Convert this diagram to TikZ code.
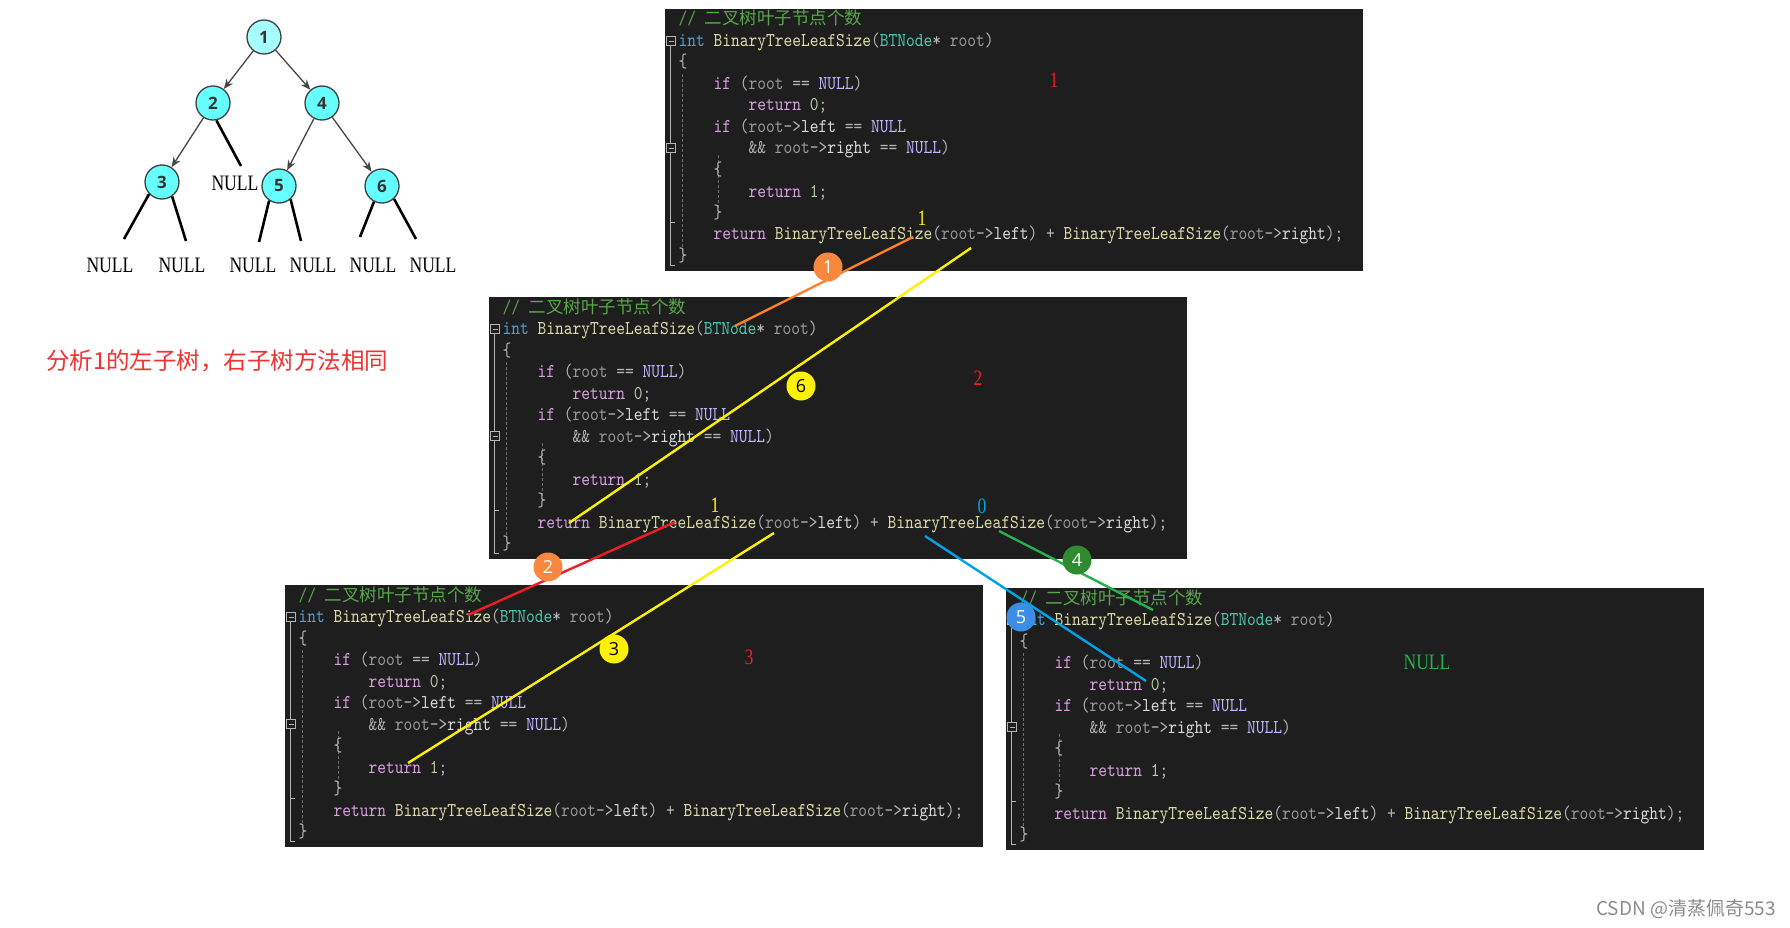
\documentclass[tikz,border=0pt]{standalone}
\usepackage{fontspec}
\usepackage{xcolor}
\definecolor{colBg}{HTML}{1E1E1E}
\definecolor{colCmt}{HTML}{57A64A}
\definecolor{colInt}{HTML}{569CD6}
\definecolor{colFn}{HTML}{DCDCAA}
\definecolor{colTy}{HTML}{4EC9B0}
\definecolor{colPar}{HTML}{9A9A9A}
\definecolor{colKw}{HTML}{D8A0DF}
\definecolor{colNul}{HTML}{BEB7FF}
\definecolor{colNum}{HTML}{B5CEA8}
\definecolor{colPun}{HTML}{B4B4B4}
\definecolor{colFld}{HTML}{DADADA}
\definecolor{colGuide}{HTML}{6E6E6E}
\definecolor{colNode}{HTML}{66FFFF}
\definecolor{colRoot}{HTML}{A6FFFF}
\definecolor{colOrange}{HTML}{F7883E}
\definecolor{colOrangeLine}{HTML}{FF7F27}
\definecolor{colRed}{HTML}{EE1C24}
\definecolor{colYellow}{HTML}{FFF200}
\definecolor{colGreen}{HTML}{2E8B30}
\definecolor{colGreenLine}{HTML}{22B14C}
\definecolor{colBlue}{HTML}{3A8EE6}
\definecolor{colBlueLine}{HTML}{00A2E8}
\definecolor{colNote}{HTML}{F03232}
\newfontfamily\codefont[FakeStretch=0.85]{lmmono10-regular.otf}
\newfontfamily\cjkfont{Noto Sans CJK SC}
\newfontfamily\nullwordfont[FakeStretch=0.8]{Liberation Serif}
\newfontfamily\numfont{Open Sans}
\usetikzlibrary{arrows.meta}

% code tokens
\newcommand\cKw[1]{\textcolor{colKw}{#1}}
\newcommand\cInt[1]{\textcolor{colInt}{#1}}
\newcommand\cFn[1]{\textcolor{colFn}{#1}}
\newcommand\cTy[1]{\textcolor{colTy}{#1}}
\newcommand\cPar[1]{\textcolor{colPar}{#1}}
\newcommand\cNul[1]{\textcolor{colNul}{#1}}
\newcommand\cNum[1]{\textcolor{colNum}{#1}}
\newcommand\cPun[1]{\textcolor{colPun}{#1}}
\newcommand\cFld[1]{\textcolor{colFld}{#1}}

% one editor window: name, left, top
\newcommand\codebox[3]{%
  \begin{scope}[shift={(#2,#3)}]
    \fill[colBg] (0,0) rectangle (698,262);
    % outlining margin
    \draw[colPun, line width=0.8pt] (5,37) -- (5,134) (5,144) -- (5,256) -- (10,256) (5,213) -- (10,213);
    \foreach \fy in {32,139} {
      \draw[colPun, fill=colBg, line width=0.8pt] (1.5,{\fy-4.5}) rectangle (10.5,{\fy+4.5});
      \draw[colPun, line width=0.8pt] (3.5,\fy) -- (8.5,\fy);
    }
    \draw[colGuide, dash pattern=on 3pt off 2pt, line width=0.8pt] (17,65) -- (17,245) (53,146) -- (53,205);
    \node[codeline] (#1l0) at (13.5,16) {\textcolor{colCmt}{// {\cjkfont\fontsize{17.5}{17.5}\selectfont 二叉树叶子节点个数}}};
    \node[codeline] (#1l1) at (13.5,37.5) {\cInt{int} \cFn{BinaryTreeLeafSize}\cPun{(}\cTy{BTNode}\cPun{*} \cPar{root}\cPun{)}};
    \node[codeline] (#1l2) at (13.5,59) {\cPun{\{}};
    \node[codeline] (#1l3) at (48.5,80.5) {\cKw{if} \cPun{(}\cPar{root} \cPun{==} \cNul{NULL}\cPun{)}};
    \node[codeline] (#1l4) at (83.5,102) {\cKw{return} \cNum{0}\cPun{;}};
    \node[codeline] (#1l5) at (48.5,123.5) {\cKw{if} \cPun{(}\cPar{root}\cPun{->}\cFld{left} \cPun{==} \cNul{NULL}};
    \node[codeline] (#1l6) at (83.5,145) {\cPun{\&\&} \cPar{root}\cPun{->}\cFld{right} \cPun{==} \cNul{NULL}\cPun{)}};
    \node[codeline] (#1l7) at (48.5,166.5) {\cPun{\{}};
    \node[codeline] (#1l8) at (83.5,188) {\cKw{return} \cNum{1}\cPun{;}};
    \node[codeline] (#1l9) at (48.5,209.5) {\cPun{\}}};
    \node[codeline] (#1l10) at (48.5,231) {\cKw{return} \cFn{BinaryTreeLeafSize}\cPun{(}\cPar{root}\cPun{->}\cFld{left}\cPun{)} \cPun{+} \cFn{BinaryTreeLeafSize}\cPun{(}\cPar{root}\cPun{->}\cFld{right}\cPun{);}};
    \node[codeline] (#1l11) at (13.5,252.5) {\cPun{\}}};
  \end{scope}}

\begin{document}
\begin{tikzpicture}[x=1pt, y=-1pt,
    codeline/.style={anchor=base west, inner sep=0pt, font=\codefont\fontsize{19.6}{21}\selectfont},
    treenode/.style={circle, draw=black!75, line width=1.3pt, fill=colNode, minimum size=34pt, inner sep=0pt,
      text=black!80, font=\numfont\bfseries\fontsize{17}{17}\selectfont},
    treearrow/.style={draw=black!72, line width=1.3pt, -{Stealth[length=10pt, width=8pt]}},
    nullline/.style={line width=2.6pt, black},
    nulltext/.style={inner sep=0pt, font=\nullwordfont\fontsize{22}{22}\selectfont},
    remark/.style={inner sep=0pt, font=\nullwordfont\fontsize{22}{22}\selectfont},
    stepmark/.style={circle, minimum size=29pt, inner sep=0pt, text=white, font=\numfont\fontsize{18}{18}\selectfont},
    callline/.style={line width=2.4pt}]
  \useasboundingbox (0,0) rectangle (1790,928);
  \fill[white] (0,0) rectangle (1790,928);

  % the tree
  \node[treenode, fill=colRoot] (n1) at (264,37) {1};
  \node[treenode] (n2) at (213,103) {2};
  \node[treenode] (n4) at (322,103) {4};
  \node[treenode] (n3) at (162,182) {3};
  \node[treenode] (n5) at (279,186) {5};
  \node[treenode] (n6) at (382,186) {6};
  \draw[treearrow] (n1) -- (n2);
  \draw[treearrow] (n1) -- (n4);
  \draw[treearrow] (n2) -- (n3);
  \draw[treearrow] (n4) -- (n5);
  \draw[treearrow] (n4) -- (n6);

  % empty children
  \node[nulltext] (null2b) at (235,183) {NULL};
  \node[nulltext] (null3a) at (110,265) {NULL};
  \node[nulltext] (null3b) at (182,265) {NULL};
  \node[nulltext] (null5a) at (253,265) {NULL};
  \node[nulltext] (null5b) at (313,265) {NULL};
  \node[nulltext] (null6a) at (373,265) {NULL};
  \node[nulltext] (null6b) at (433,265) {NULL};
  \coordinate (e2b) at (241,166);
  \coordinate (e3a) at (124,239);
  \coordinate (e3b) at (186,241);
  \coordinate (e5a) at (259,242);
  \coordinate (e5b) at (301,241);
  \coordinate (e6a) at (360,237);
  \coordinate (e6b) at (416,239);
  \draw[nullline] (n2.281) -- (e2b);
  \draw[nullline] (n3.223) -- (e3a);
  \draw[nullline] (n3.305) -- (e3b);
  \draw[nullline] (n5.236) -- (e5a);
  \draw[nullline] (n5.311) -- (e5b);
  \draw[nullline] (n6.243) -- (e6a);
  \draw[nullline] (n6.313) -- (e6b);

  \node[anchor=west, inner sep=0pt, text=colNote, font=\cjkfont\fontsize{23.5}{23.5}\selectfont] (note) at (46,361) {分析1的左子树，右子树方法相同};

  % the four calls
  \codebox{ca}{665}{9}
  \codebox{cb}{489}{297}
  \codebox{cc}{285}{585}
  \codebox{cd}{1006}{588}

  \node[remark, text=colRed] (res1) at (1054,80) {1};
  \node[remark, text=colYellow] (ret1) at (922,218) {1};
  \node[remark, text=colRed] (res2) at (978,378) {2};
  \node[remark, text=colYellow] (ret2l) at (715,505) {1};
  \node[remark, text=colBlueLine] (ret2r) at (982,506) {0};
  \node[remark, text=colRed] (res3) at (749,657) {3};
  \node[remark, text=colGreenLine] (resnull) at (1427,662) {NULL};

  % call and return paths
  \coordinate (o1a) at (913,237);
  \coordinate (o1b) at (735,326);
  \coordinate (y6a) at (971,248);
  \coordinate (y6b) at (569,523);
  \coordinate (r2a) at (675,522);
  \coordinate (r2b) at (468,615);
  \coordinate (y3a) at (774,533);
  \coordinate (y3b) at (408,763);
  \coordinate (b5a) at (925,536);
  \coordinate (b5b) at (1146,681);
  \coordinate (g4a) at (999,531);
  \coordinate (g4b) at (1153,610);
  \draw[callline, colOrangeLine] (o1a) -- (o1b);
  \draw[callline, colYellow] (y6a) -- (y6b);
  \draw[callline, colRed] (r2a) -- (r2b);
  \draw[callline, colYellow] (y3a) -- (y3b);
  \draw[callline, colBlueLine] (b5a) -- (b5b);
  \draw[callline, colGreenLine] (g4a) -- (g4b);
  \node[stepmark, fill=colOrange] (s1) at (828,267) {1};
  \node[stepmark, fill=colOrange] (s2) at (548,567) {2};
  \node[stepmark, fill=colYellow, text=black] (s3) at (614,649) {3};
  \node[stepmark, fill=colGreen] (s4) at (1077,560) {4};
  \node[stepmark, fill=colBlue] (s5) at (1021,617) {5};
  \node[stepmark, fill=colYellow, text=black] (s6) at (801,386) {6};

  \node[anchor=east, inner sep=0pt, text=black!45, font=\cjkfont\fontsize{19}{19}\selectfont] (mark) at (1776,909) {CSDN @清蒸佩奇553};
\end{tikzpicture}
\end{document}
